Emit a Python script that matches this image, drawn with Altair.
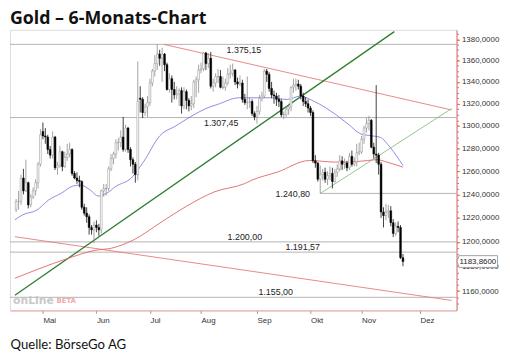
import altair as alt
import numpy as np
import pandas as pd

TITLE = "Gold – 6-Monats-Chart"
SOURCE = "Quelle: BörseGo AG"

# daily candles, trading days 15.04.2016 - 24.11.2016 (index 0 = 02.05.2016)
first_day = "2016-04-15"
last_day = "2016-11-24"
anchor_day = "2016-05-02"

opens = [
    1227, 1234, 1234, 1254, 1243, 1250, 1231, 1238, 1243, 1250, 1266,
    1295, 1291, 1290, 1279, 1274, 1290, 1263, 1265, 1277, 1264, 1272, 1275, 1279, 1258, 1254, 1252, 1251, 1229, 1224, 1221, 1212, 1210,
    1214, 1212, 1210, 1243, 1245, 1245, 1262, 1271, 1275, 1285, 1285, 1290, 1279, 1298, 1279, 1270, 1266, 1257, 1325, 1324, 1312, 1317,
    1321, 1339, 1350, 1357, 1366, 1362, 1366, 1356, 1333, 1343, 1333, 1328, 1329, 1332, 1318, 1331, 1323, 1318, 1320, 1340, 1342,
    1351, 1352, 1367, 1357, 1362, 1336, 1339, 1345, 1345, 1335, 1335, 1339, 1347, 1348, 1351, 1340, 1338, 1339, 1324, 1321, 1321, 1322, 1311,
    1308, 1313, 1325, 1327, 1350, 1347, 1334, 1328, 1327, 1324, 1322, 1310, 1310, 1315, 1317, 1335, 1337, 1338, 1336, 1327, 1322, 1320,
    1316, 1312, 1269, 1267, 1253, 1257, 1259, 1253, 1256, 1258, 1251, 1259, 1262, 1269, 1266, 1267, 1263, 1273, 1266, 1268, 1276,
    1277, 1288, 1298, 1302, 1305, 1281, 1275, 1274, 1266, 1225, 1222, 1225, 1226, 1216, 1207, 1213, 1212, 1187,
]
highs = [
    1236, 1243, 1257, 1262, 1270, 1251, 1240, 1246, 1253, 1268, 1297,
    1303, 1298, 1292, 1282, 1295, 1291, 1268, 1282, 1278, 1277, 1284, 1285, 1280, 1260, 1259, 1256, 1252, 1232, 1229, 1223, 1214, 1217,
    1218, 1215, 1244, 1249, 1249, 1264, 1275, 1277, 1288, 1289, 1296, 1308, 1301, 1299, 1281, 1272, 1268, 1359, 1336, 1326, 1320, 1327,
    1343, 1352, 1365, 1375.15, 1370, 1372, 1367, 1358, 1348, 1346, 1340, 1336, 1334, 1335, 1335, 1333, 1325, 1327, 1342, 1345, 1356,
    1358, 1368, 1368, 1367, 1368, 1343, 1348, 1352, 1351, 1345, 1343, 1353, 1356, 1357, 1352, 1344, 1346, 1342, 1329, 1345, 1326, 1324, 1313,
    1318, 1328, 1331, 1352, 1352, 1349, 1340, 1332, 1330, 1328, 1324, 1313, 1318, 1320, 1336, 1343, 1343, 1342, 1338, 1330, 1326, 1324,
    1318, 1314, 1274, 1268, 1265, 1262, 1263, 1260, 1264, 1263, 1262, 1266, 1274, 1273, 1271, 1269, 1276, 1278, 1272, 1284, 1285,
    1291, 1300, 1307, 1309, 1306, 1285, 1337, 1276, 1268, 1229, 1232, 1231, 1230, 1219, 1216, 1217, 1214, 1190,
]
lows = [
    1225, 1227, 1231, 1240, 1242, 1228, 1229, 1236, 1239, 1245, 1264,
    1288, 1284, 1275, 1271, 1271, 1261, 1257, 1263, 1260, 1263, 1269, 1272, 1256, 1253, 1249, 1246, 1227, 1222, 1216, 1206, 1206, 1199,
    1208, 1205, 1207, 1238, 1239, 1243, 1260, 1266, 1271, 1278, 1281, 1277, 1277, 1276, 1264, 1258, 1250, 1252, 1312, 1307, 1309, 1308,
    1318, 1336, 1345, 1351, 1355, 1340, 1350, 1332, 1330, 1321, 1324, 1324, 1318, 1311, 1315, 1315, 1313, 1314, 1316, 1326, 1330,
    1348, 1350, 1351, 1353, 1334, 1331, 1335, 1339, 1334, 1333, 1332, 1337, 1343, 1345, 1337, 1334, 1336, 1321, 1319, 1315, 1316, 1309, 1305,
    1302, 1310, 1322, 1325, 1340, 1331, 1325, 1320, 1318, 1317, 1308, 1306, 1308, 1310, 1313, 1330, 1332, 1333, 1324, 1318, 1317, 1312,
    1309, 1267, 1263, 1251, 1240.8, 1252, 1250, 1248, 1252, 1245, 1250, 1255, 1260, 1261, 1262, 1260, 1261, 1264, 1264, 1264, 1274,
    1275, 1284, 1294, 1296, 1280, 1271, 1267, 1257, 1220, 1212, 1218, 1220, 1213, 1204, 1205, 1208, 1186, 1180,
]
closes = [
    1234, 1234, 1254, 1243, 1250, 1231, 1238, 1243, 1250, 1266, 1292,
    1291, 1290, 1279, 1274, 1290, 1263, 1265, 1277, 1264, 1272, 1275, 1279, 1258, 1254, 1252, 1251, 1229, 1224, 1221, 1212, 1210, 1214,
    1212, 1210, 1243, 1245, 1245, 1262, 1271, 1275, 1285, 1285, 1290, 1279, 1298, 1279, 1270, 1266, 1257, 1322, 1324, 1312, 1317, 1321,
    1339, 1350, 1357, 1366, 1362, 1366, 1356, 1333, 1343, 1333, 1328, 1329, 1332, 1318, 1331, 1323, 1318, 1320, 1340, 1342, 1351,
    1352, 1367, 1357, 1362, 1336, 1339, 1345, 1345, 1335, 1335, 1339, 1347, 1348, 1351, 1340, 1338, 1339, 1324, 1321, 1321, 1322, 1311, 1308,
    1313, 1325, 1327, 1350, 1347, 1334, 1328, 1327, 1324, 1322, 1310, 1310, 1315, 1317, 1335, 1337, 1338, 1336, 1327, 1322, 1320, 1316,
    1312, 1269, 1267, 1253, 1257, 1259, 1253, 1256, 1258, 1251, 1259, 1262, 1269, 1266, 1267, 1263, 1273, 1266, 1268, 1276, 1277,
    1288, 1298, 1302, 1305, 1281, 1275, 1274, 1266, 1225, 1222, 1225, 1226, 1216, 1207, 1213, 1212, 1187, 1183.86,
]

month_tick_index = [0, 22, 44, 65, 88, 110, 131, 155]
month_labels = ["Mai", "Jun", "Jul", "Aug", "Sep", "Okt", "Nov", "Dez"]
price_ticks = [1160, 1180, 1200, 1220, 1240, 1260, 1280, 1300, 1320, 1340, 1360, 1380]

# horizontal support / resistance levels
level_values = [1375.15, 1307.45, 1200.00, 1191.57, 1155.00]
level_label_index = [75.5, 66.2, 75.9, 99.7, 88.6]
level_label_below = [True, True, False, False, False]
low_level = 1240.80
low_level_index = 114

# moving averages
ma_blue_index = [-11.5, -8.3, -2.4, 2.3, 7.6, 12.2, 15.5, 19.5, 22.8, 26.1, 30.1, 36.2, 41.3, 48.1,
                 54.7, 61.2, 67.9, 71.9, 80.5, 88.5, 93.7, 100.4, 105.7, 111.6, 120.2, 125.5,
                 130.8, 134.8, 138.7, 142.7, 148]
ma_blue_price = [1218.4, 1222.6, 1226.7, 1235.1, 1241.0, 1247.0, 1248.0, 1243.6, 1238.5, 1240.8,
                 1247.0, 1253.8, 1267.9, 1291.2, 1300.0, 1308.9, 1316.4, 1319.4, 1325.4, 1325.4,
                 1325.4, 1323.9, 1326.9, 1322.0, 1310.4, 1301.5, 1292.7, 1291.2, 1289.7, 1280.9, 1265.0]
ma_red_index = [-11.5, -2.2, 11.0, 21.6, 28.2, 37.5, 48.1, 58.7, 70.6, 83.0, 85.8, 96.4, 109.6,
                120.2, 125.5, 133.5, 137.4, 141.4, 148]
ma_red_price = [1170.3, 1177.5, 1186.9, 1193.1, 1194.8, 1201.9, 1215.7, 1229.5, 1242.2, 1249.3,
                1252.1, 1259.2, 1269.3, 1267.9, 1267.9, 1269.3, 1270.0, 1267.9, 1263.5]

# trend lines (two anchor points each)
trend_green_index = [-11.5, 144.45]
trend_green_price = [1156.6, 1387.3]
trend_green_thin_index = [114, 168]
trend_green_thin_price = [1240.8, 1315.6]
trend_red_upper_index = [49.7, 168]
trend_red_upper_price = [1375.15, 1314.3]
trend_red_lower_index = [-11.5, 168]
trend_red_lower_price = [1204.3, 1152.5]

WIDTH, HEIGHT = 452, 284


def de_num(v, decimals=2, thousands=True):
    s = f"{v:,.{decimals}f}" if thousands else f"{v:.{decimals}f}"
    return s.replace(",", "X").replace(".", ",").replace("X", ".")


dates = pd.bdate_range(first_day, last_day)
idx = np.busday_count(np.datetime64(anchor_day), dates.values.astype("datetime64[D]"))
candles = pd.DataFrame({"i": idx, "o": opens, "h": highs, "l": lows, "c": closes})
candles["up"] = candles["c"] >= candles["o"]

x_scale = alt.Scale(domain=[-11.5, 168], nice=False, zero=False)
y_scale = alt.Scale(type="log", domain=[1144.6, 1389.0], nice=False)

label_expr = " : ".join(f"datum.value == {v} ? '{l}'" for v, l in zip(month_tick_index, month_labels)) + " : ''"
x_axis = alt.Axis(values=month_tick_index, labelExpr=label_expr, grid=False,
                  domainColor="#e9a3a3", domainWidth=1, tickColor="#9a9a9a", tickSize=3,
                  labelFont="Liberation Sans", labelFontSize=8, labelColor="#333333",
                  labelAlign="left", labelPadding=3, labelFlush=False,
                  title=SOURCE, titleFont="Lato", titleFontSize=13.3, titleFontWeight="normal",
                  titleColor="#111111", titleAnchor="start", titleAlign="left",
                  titleX=0, titleY=39, titleBaseline="alphabetic")
y_axis = alt.Axis(orient="right", values=price_ticks, grid=False,
                  labelExpr="replace(format(datum.value, '.4f'), '.', ',')",
                  domainColor="#e07070", domainWidth=1, tickColor="#e07070", tickSize=3,
                  labelFont="Liberation Sans", labelFontSize=8, labelColor="#333333",
                  labelPadding=2, title=None, labelFlush=False)
minor_values = list(range(1150, 1390, 5))
y_axis_minor = alt.Axis(orient="right", values=minor_values, grid=False, labels=False,
                        domain=False, tickColor="#e07070", tickSize=2, title=None)


def X(field="i"):
    return alt.X(f"{field}:Q", scale=x_scale, axis=x_axis)


def Y(field="p", axis=None):
    return alt.Y(f"{field}:Q", scale=y_scale, axis=axis)


layers = []

# full width levels
lv = pd.DataFrame({"p": level_values})
layers.append(alt.Chart(lv).mark_rule(color="#a0a0a0", strokeWidth=0.8).encode(y=Y("p", y_axis_minor)))
# Oct low level
lowdf = pd.DataFrame({"i": [low_level_index], "p": [low_level]})
layers.append(alt.Chart(lowdf).mark_rule(color="#a0a0a0", strokeWidth=0.8).encode(
    x=X("i"), x2=alt.value(WIDTH), y=Y("p")))

# trend lines
for xs, ps, col, w in [
    (trend_red_lower_index, trend_red_lower_price, "#e57b7b", 0.9),
    (trend_red_upper_index, trend_red_upper_price, "#e57b7b", 0.9),
    (trend_green_thin_index, trend_green_thin_price, "#78b878", 0.8),
    (trend_green_index, trend_green_price, "#2f7d2f", 1.3),
]:
    d = pd.DataFrame({"i": xs, "p": ps})
    layers.append(alt.Chart(d).mark_line(color=col, strokeWidth=w, clip=True).encode(x=X("i"), y=Y("p")))

# moving averages
for xs, ps, col in [(ma_red_index, ma_red_price, "#e06464"), (ma_blue_index, ma_blue_price, "#7f7fe0")]:
    d = pd.DataFrame({"i": xs, "p": ps})
    layers.append(alt.Chart(d).mark_line(color=col, strokeWidth=0.9, interpolate="monotone").encode(
        x=X("i"), y=Y("p")))

# candles
base = alt.Chart(candles)
layers.append(base.mark_rule(strokeWidth=0.8).encode(
    x=X("i"), y=Y("l"), y2="h:Q",
    color=alt.condition("datum.up", alt.value("#8c8c8c"), alt.value("#111111"))))
layers.append(base.mark_bar(size=1.8, strokeWidth=0.5).encode(
    x=X("i"), y=Y("o", y_axis), y2="c:Q",
    fill=alt.condition("datum.up", alt.value("#ffffff"), alt.value("#000000")),
    stroke=alt.condition("datum.up", alt.value("#8c8c8c"), alt.value("#000000"))))

# level labels
lab = pd.DataFrame({"i": level_label_index, "p": level_values,
                    "t": [de_num(v) for v in level_values], "below": level_label_below})
txt_style = dict(font="Liberation Sans", fontSize=9, color="#222222", align="left")
layers.append(alt.Chart(lab[lab["below"]]).mark_text(baseline="top", dy=2, **txt_style).encode(
    x=X("i"), y=Y("p"), text="t:N"))
layers.append(alt.Chart(lab[~lab["below"]]).mark_text(baseline="alphabetic", dy=-2, **txt_style).encode(
    x=X("i"), y=Y("p"), text="t:N"))
lowlab = pd.DataFrame({"i": [low_level_index - 4.2], "p": [low_level], "t": [de_num(low_level)]})
layers.append(alt.Chart(lowlab).mark_text(baseline="middle", dy=1, font="Liberation Sans", fontSize=9,
                                          color="#222222", align="right").encode(
    x=X("i"), y=Y("p"), text="t:N"))

# last value box on the price axis
last = pd.DataFrame({"p": [closes[-1]], "t": [de_num(closes[-1], 4, thousands=False)]})
box_path = "M-0.9,-0.29L1,-0.29L1,0.29L-0.9,0.29L-1,0Z"
layers.append(alt.Chart(last).mark_point(shape=box_path, size=1681, filled=True, fill="white",
                                         stroke="#8a8a8a", strokeWidth=0.8, opacity=1, clip=False).encode(
    x=alt.value(WIDTH + 21), y=Y("p")))
layers.append(alt.Chart(last).mark_text(font="Liberation Sans", fontSize=8, color="#222222",
                                        align="left", baseline="middle", clip=False).encode(
    x=alt.value(WIDTH + 3), y=Y("p"), text="t:N"))

# watermark
wm = pd.DataFrame({"a": [0]})
layers.append(alt.Chart(wm).mark_text(text="onLine", font="DejaVu Sans", fontWeight="bold", fontSize=11,
                                      color="#c9c9c9", align="left", baseline="middle").encode(
    x=alt.value(3), y=alt.value(HEIGHT - 10)))
layers.append(alt.Chart(wm).mark_text(text="BETA", font="DejaVu Sans", fontWeight="bold", fontSize=7,
                                      color="#f0a8a8", align="left", baseline="middle").encode(
    x=alt.value(47), y=alt.value(HEIGHT - 10)))

chart = alt.layer(*layers).resolve_axis(y="independent").properties(
    width=WIDTH, height=HEIGHT,
    title=alt.TitleParams(TITLE, anchor="start", frame="group", font="Open Sans", fontSize=18,
                          fontWeight="bold", color="#111111", offset=2),
    autosize=alt.AutoSizeParams(type="none"),
    padding={"left": 2, "top": 20, "right": 46, "bottom": 41},
).configure_view(stroke=None).configure(background="white")

chart.save("out.html", embed_options={"renderer": "svg", "actions": False})
